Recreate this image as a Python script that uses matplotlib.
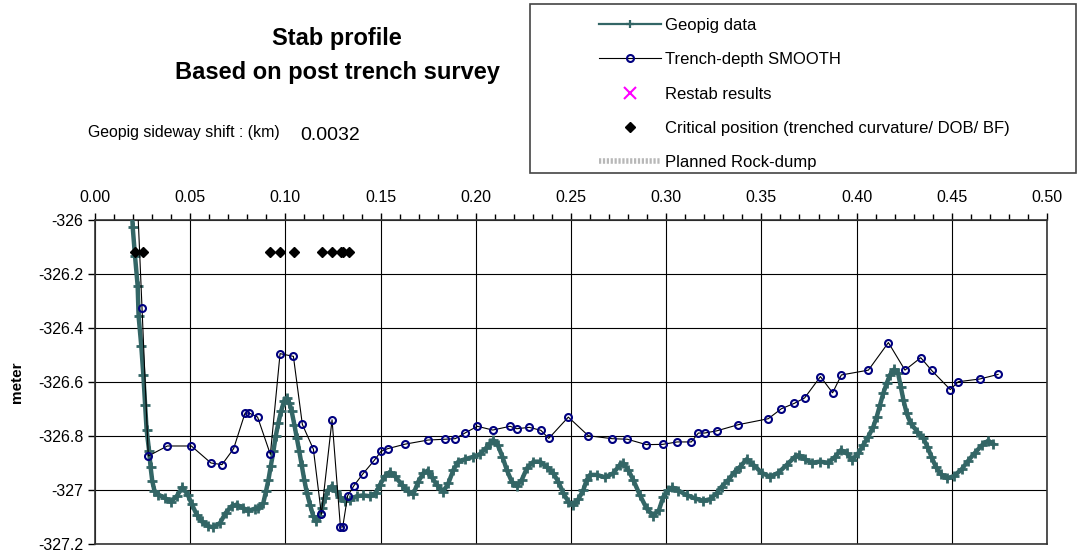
import numpy as np
import matplotlib
matplotlib.use("Agg")
import matplotlib.pyplot as plt
from matplotlib.lines import Line2D
from matplotlib.patches import Rectangle
from matplotlib.ticker import MultipleLocator

plt.rcParams['font.family'] = ['Liberation Sans', 'DejaVu Sans']

# Geopig data (km, m)
geo_x = [0.0192, 0.0198, 0.0210, 0.0224, 0.0229, 0.0243, 0.0254, 0.0263, 0.0271, 0.0284,
         0.0292, 0.0301, 0.0312, 0.0333, 0.0368, 0.0399, 0.0429, 0.0459, 0.0487, 0.0508,
         0.0534, 0.0560, 0.0595, 0.0621, 0.0657, 0.0686, 0.0718, 0.0744, 0.0779, 0.0805,
         0.0840, 0.0858, 0.0884, 0.0898, 0.0911, 0.0923, 0.0937, 0.0949, 0.0963, 0.0977,
         0.0993, 0.1007, 0.1021, 0.1033, 0.1047, 0.1060, 0.1073, 0.1085, 0.1099, 0.1113,
         0.1129, 0.1147, 0.1161, 0.1176, 0.1191, 0.1208, 0.1226, 0.1243, 0.1264, 0.1287,
         0.1313, 0.1339, 0.1374, 0.1409, 0.1444, 0.1474, 0.1497, 0.1523, 0.1549, 0.1576,
         0.1611, 0.1646, 0.1672, 0.1698, 0.1724, 0.1747, 0.1768, 0.1795, 0.1829, 0.1856,
         0.1882, 0.1908, 0.1943, 0.1987, 0.2022, 0.2052, 0.2075, 0.2092, 0.2115, 0.2140,
         0.2163, 0.2189, 0.2215, 0.2241, 0.2268, 0.2303, 0.2337, 0.2372, 0.2407, 0.2433,
         0.2460, 0.2486, 0.2512, 0.2538, 0.2565, 0.2582, 0.2600, 0.2635, 0.2679, 0.2722,
         0.2757, 0.2775, 0.2801, 0.2827, 0.2862, 0.2897, 0.2932, 0.2962, 0.2985, 0.3011,
         0.3032, 0.3064, 0.3108, 0.3151, 0.3195, 0.3230, 0.3265, 0.3291, 0.3326, 0.3361,
         0.3388, 0.3423, 0.3458, 0.3501, 0.3545, 0.3589, 0.3633, 0.3676, 0.3697, 0.3729,
         0.3764, 0.3807, 0.3851, 0.3887, 0.3918, 0.3948, 0.3977, 0.4009, 0.4035, 0.4062,
         0.4088, 0.4106, 0.4123, 0.4140, 0.4158, 0.4175, 0.4198, 0.4218, 0.4232, 0.4246,
         0.4263, 0.4284, 0.4319, 0.4351, 0.4372, 0.4393, 0.4416, 0.4442, 0.4477, 0.4512,
         0.4552, 0.4587, 0.4622, 0.4660, 0.4692, 0.4718]
geo_y = [-325.93, -326.026, -326.132, -326.244, -326.356, -326.466, -326.575, -326.684, -326.777, -326.854,
         -326.916, -326.968, -327.002, -327.017, -327.030, -327.044, -327.023, -326.990, -327.017, -327.052,
         -327.091, -327.116, -327.134, -327.138, -327.122, -327.085, -327.060, -327.054, -327.067, -327.077,
         -327.069, -327.067, -327.048, -327.005, -326.962, -326.912, -326.857, -326.801, -326.752, -326.709,
         -326.671, -326.659, -326.678, -326.709, -326.758, -326.807, -326.857, -326.906, -326.962, -327.011,
         -327.054, -327.098, -327.116, -327.098, -327.067, -327.030, -326.999, -326.986, -327.002, -327.027,
         -327.042, -327.036, -327.023, -327.020, -327.023, -327.011, -326.980, -326.949, -326.933, -326.949,
         -326.980, -327.005, -327.015, -326.969, -326.938, -326.928, -326.951, -326.981, -327.006, -326.975,
         -326.926, -326.895, -326.886, -326.877, -326.867, -326.846, -326.827, -326.815, -326.833, -326.877,
         -326.926, -326.969, -326.985, -326.963, -326.920, -326.895, -326.895, -326.914, -326.938, -326.969,
         -327.012, -327.043, -327.056, -327.035, -327.000, -326.963, -326.944, -326.944, -326.953, -326.938,
         -326.907, -326.901, -326.926, -326.963, -327.019, -327.068, -327.096, -327.074, -327.025, -327.000,
         -326.990, -327.002, -327.019, -327.031, -327.040, -327.034, -327.012, -326.988, -326.963, -326.932,
         -326.914, -326.886, -326.907, -326.936, -326.951, -326.936, -326.907, -326.877, -326.870, -326.886,
         -326.899, -326.895, -326.899, -326.877, -326.852, -326.864, -326.889, -326.864, -326.833, -326.802,
         -326.765, -326.728, -326.685, -326.642, -326.605, -326.574, -326.553, -326.568, -326.617, -326.667,
         -326.716, -326.753, -326.784, -326.809, -326.840, -326.877, -326.914, -326.941, -326.957, -326.948,
         -326.923, -326.891, -326.862, -326.833, -326.817, -326.830]

# Trench-depth SMOOTH
tr_x = [0.0215, 0.0247, 0.0280, 0.0380, 0.0506, 0.0609, 0.0667, 0.0728, 0.0788, 0.0810,
        0.0854, 0.0921, 0.0972, 0.1042, 0.1089, 0.1147, 0.1189, 0.1245, 0.1289, 0.1301,
        0.1327, 0.1360, 0.1406, 0.1467, 0.1502, 0.1537, 0.1630, 0.1749, 0.1837, 0.1892,
        0.1943, 0.2008, 0.2089, 0.2180, 0.2215, 0.2281, 0.2342, 0.2383, 0.2486, 0.2591,
        0.2717, 0.2796, 0.2896, 0.2981, 0.3058, 0.3132, 0.3169, 0.3202, 0.3265, 0.3379,
        0.3536, 0.3605, 0.3673, 0.3727, 0.3810, 0.3874, 0.3920, 0.4062, 0.4167, 0.4254,
        0.4337, 0.4394, 0.4492, 0.4534, 0.4646, 0.4743]
tr_y = [-325.80, -326.327, -326.874, -326.837, -326.837, -326.900, -326.906, -326.847, -326.715, -326.715,
        -326.730, -326.868, -326.495, -326.505, -326.757, -326.849, -327.090, -326.740, -327.137, -327.137,
        -327.021, -326.984, -326.941, -326.890, -326.857, -326.847, -326.830, -326.815, -326.812, -326.810,
        -326.789, -326.764, -326.778, -326.764, -326.773, -326.768, -326.779, -326.809, -326.730, -326.799,
        -326.810, -326.812, -326.832, -326.831, -326.822, -326.822, -326.789, -326.789, -326.781, -326.758,
        -326.736, -326.699, -326.679, -326.659, -326.580, -326.640, -326.574, -326.556, -326.454, -326.556,
        -326.510, -326.557, -326.628, -326.599, -326.589, -326.572]

# Critical positions
crit_x = [0.0210, 0.0254, 0.0921, 0.0970, 0.1044, 0.1190, 0.1247, 0.1290, 0.1305, 0.1335]
crit_y = [-326.12] * len(crit_x)

fig = plt.figure(figsize=(10.77, 5.58), dpi=100)
ax = fig.add_axes([95 / 1077, 1 - 544 / 558, 952 / 1077, 324 / 558])

teal = '#336666'
ax.plot(geo_x, geo_y, color=teal, lw=3.2, marker='+', ms=7.5, mew=2.0, zorder=3)
ax.plot(tr_x, tr_y, color='black', lw=0.8, marker='o', ms=5, mfc='none',
        mec='#000080', mew=1.5, zorder=4)
ax.plot(crit_x, crit_y, ls='none', marker='D', ms=5.5, color='black', zorder=5)

ax.set_xlim(0, 0.5)
ax.set_ylim(-327.2, -326)
ax.xaxis.set_major_locator(MultipleLocator(0.05))
ax.xaxis.set_minor_locator(MultipleLocator(0.01))
ax.yaxis.set_major_locator(MultipleLocator(0.2))
ax.xaxis.tick_top()
ax.xaxis.set_major_formatter(plt.FuncFormatter(lambda v, p: '%.2f' % v))
ax.yaxis.set_major_formatter(plt.FuncFormatter(lambda v, p: ('%g' % round(v, 1))))
ax.tick_params(axis='both', which='major', labelsize=11.5, length=5, width=1, direction='out')
ax.tick_params(axis='x', which='minor', length=4, width=1, direction='out', top=True, bottom=False)
ax.tick_params(axis='x', pad=6)
ax.grid(True, which='major', color='black', lw=0.8)
for s in ax.spines.values():
    s.set_color('#333333')
    s.set_linewidth(1.2)
ax.set_ylabel('meter', fontsize=11, fontweight='bold', labelpad=10)

fig.text(337 / 1077, 1 - 38 / 558, 'Stab profile', ha='center', va='center',
         fontsize=17, fontweight='bold')
fig.text(337 / 1077, 1 - 72 / 558, 'Based on post trench survey', ha='center', va='center',
         fontsize=17, fontweight='bold')
fig.text(88 / 1077, 1 - 133 / 558, 'Geopig sideway shift : (km)', ha='left', va='center', fontsize=11.4)
fig.text(300 / 1077, 1 - 135 / 558, '0.0032', ha='left', va='center', fontsize=14)

# legend frame
fig.patches.append(Rectangle((530 / 1077, 1 - 173 / 558), 546 / 1077, 169 / 558,
                             transform=fig.transFigure, fill=False, ec='#444444', lw=1.2))

handles = [
    Line2D([], [], color=teal, lw=1.6, marker='+', ms=6, mew=1.6, markevery=[1]),
    Line2D([], [], color='black', lw=0.8, marker='o', ms=5, mfc='none', mec='#000080', mew=1.5),
    Line2D([], [], ls='none', marker='x', ms=8, mew=1.5, color='#ff00ff'),
    Line2D([], [], ls='none', marker='D', ms=5.5, color='black'),
    Line2D([], [], color='#b8b8b8', lw=4, ls=(0, (0.4, 0.3))),
]
labels = ['Geopig data', 'Trench-depth SMOOTH', 'Restab results',
          'Critical position (trenched curvature/ DOB/ BF)', 'Planned Rock-dump']
fig.legend(handles, labels, loc='upper left', bbox_to_anchor=(599 / 1077, 1 - 18 / 558),
           frameon=False, fontsize=12, handlelength=3.7, handletextpad=0.25,
           labelspacing=1.16, borderpad=0, borderaxespad=0)

fig.savefig('out.png', dpi=100)
